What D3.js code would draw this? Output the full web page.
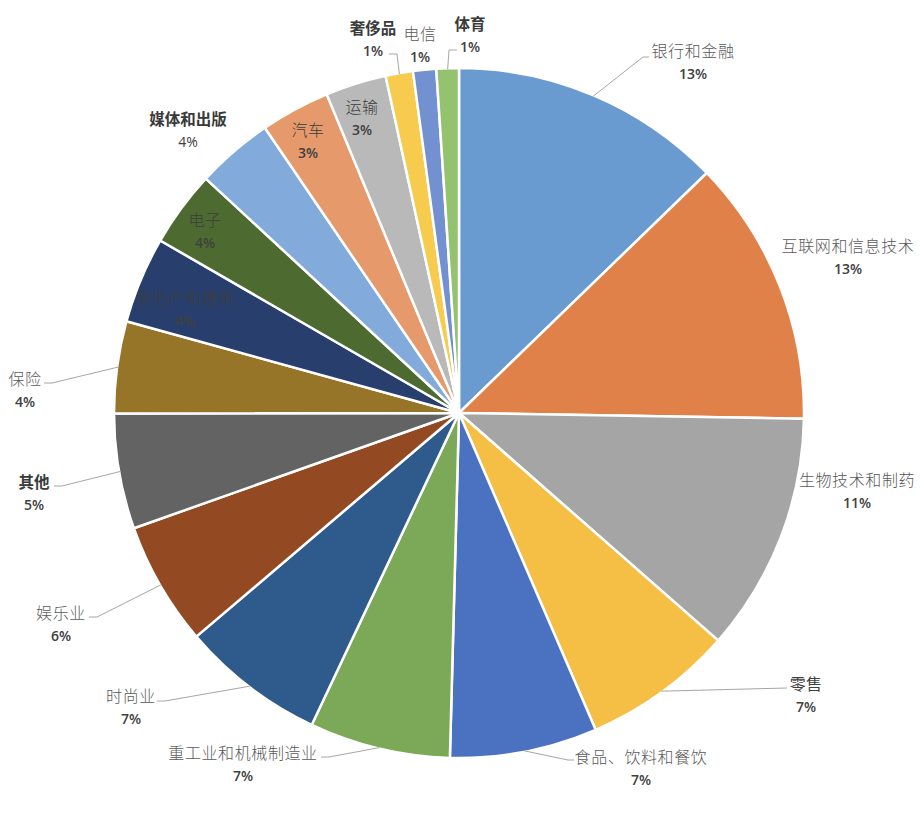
<!DOCTYPE html>
<html>
<head>
<meta charset="utf-8">
<script src="https://cdn.jsdelivr.net/npm/d3@7/dist/d3.min.js"></script>
<style>
  html, body { margin: 0; padding: 0; background: #ffffff; }
  svg { display: block; }
</style>
</head>
<body>
<svg id="chart" width="920" height="824"></svg>
<script>
// ---- data ----
const categories = ["银行和金融", "互联网和信息技术", "生物技术和制药", "零售", "食品、饮料和餐饮",
  "重工业和机械制造业", "时尚业", "娱乐业", "其他", "保险", "房地产和建筑", "电子",
  "媒体和出版", "汽车", "运输", "奢侈品", "电信", "体育"];
const values = [12.75, 12.5, 11.2, 7.05, 6.9, 6.6, 6.75, 5.8, 5.4, 4.3, 4.05, 3.55, 3.6, 3.25, 2.85, 1.28, 1.08, 1.05];
const percentLabels = ["13%", "13%", "11%", "7%", "7%", "7%", "7%", "6%", "5%", "4%", "4%", "4%", "4%", "3%", "3%", "1%", "1%", "1%"];
const colors = ["#6A9BD0", "#E0814A", "#A5A5A5", "#F5BE45", "#4B72C0", "#7CA957", "#2F5B8C", "#934A22",
  "#636363", "#977528", "#283F6D", "#4D6A31", "#82AADA", "#E69A6C", "#B9B9B9", "#F7CB4D", "#7391D0", "#95C26F"];

// ---- label layout (styling / placement, not data) ----
const labelLayout = [
  { x: 693, y: 50,  s: "l", leader: [[643, 57], [649, 57]] },
  { x: 848, y: 245, s: "l" },
  { x: 857, y: 479, s: "l" },
  { x: 806, y: 683, s: "r", leader: [[787, 688]] },
  { x: 641, y: 756, s: "l", leader: [[568, 760], [574, 760]] },
  { x: 243, y: 752, s: "l", leader: [[329, 757], [321, 757]] },
  { x: 131, y: 695, s: "l", leader: [[165, 701], [157, 701]] },
  { x: 61,  y: 612, s: "l", leader: [[97, 617], [89, 617]] },
  { x: 34,  y: 481, s: "b", leader: [[62, 486], [54, 486]] },
  { x: 25,  y: 378, s: "l", leader: [[52, 383], [44, 383]] },
  { x: 185, y: 297, s: "l", dark: true },
  { x: 205, y: 219, s: "l", dark: true },
  { x: 188, y: 118, s: "b", pctNormal: true },
  { x: 308, y: 129, s: "l", dark: true },
  { x: 362, y: 106, s: "l", dark: true },
  { x: 373, y: 27,  s: "b", leader: [[397, 54], [389, 54]] },
  { x: 420, y: 33,  s: "l" },
  { x: 470, y: 23,  s: "b", leader: [[449, 50], [457, 50]] }
];

const svg = d3.select("#chart");
const cx = 459, cy = 413, R = 345;

const pie = d3.pie().sort(null).value(d => d.v);
const arcs = pie(categories.map((c, i) => ({ c, v: values[i], i })));
const arc = d3.arc().innerRadius(0).outerRadius(R);

const g = svg.append("g").attr("transform", `translate(${cx},${cy})`);
g.selectAll("path.slice")
  .data(arcs)
  .join("path")
  .attr("class", "slice")
  .attr("d", arc)
  .attr("fill", d => colors[d.data.i])
  .attr("stroke", "#ffffff")
  .attr("stroke-width", 2.5)
  .attr("stroke-linejoin", "round");

// leader lines
const lineGen = d3.line();
arcs.forEach(d => {
  const L = labelLayout[d.data.i];
  if (!L.leader) return;
  const mid = (d.startAngle + d.endAngle) / 2;
  const start = [cx + (R - 1) * Math.sin(mid), cy - (R - 1) * Math.cos(mid)];
  svg.append("path")
    .attr("d", lineGen([start, ...L.leader]))
    .attr("fill", "none")
    .attr("stroke", "#a6a6a6")
    .attr("stroke-width", 1);
});

// labels
const styleMap = {
  l: { w: 300, fill: "#595959", size: 16, ls: 0.6 },
  r: { w: 400, fill: "#404040", size: 16, ls: 0.3 },
  b: { w: 700, fill: "#3a3a3a", size: 15.5, ls: 0 }
};
arcs.forEach(d => {
  const i = d.data.i;
  const L = labelLayout[i];
  const st = styleMap[L.s];
  svg.append("text")
    .attr("x", L.x).attr("y", L.y)
    .attr("text-anchor", "middle")
    .attr("dominant-baseline", "central")
    .attr("font-family", "'Noto Sans CJK SC', 'Noto Sans', sans-serif")
    .attr("font-size", st.size)
    .attr("font-weight", st.w)
    .attr("letter-spacing", st.ls)
    .attr("fill", L.dark ? "#3d3d3d" : st.fill)
    .text(categories[i]);
  svg.append("text")
    .attr("x", L.x).attr("y", L.y + 23)
    .attr("text-anchor", "middle")
    .attr("dominant-baseline", "central")
    .attr("font-family", "'Open Sans', 'Noto Sans', sans-serif")
    .attr("font-size", 14)
    .attr("font-weight", L.pctNormal ? 400 : 600)
    .attr("fill", "#404040")
    .text(percentLabels[i]);
});
</script>
</body>
</html>
